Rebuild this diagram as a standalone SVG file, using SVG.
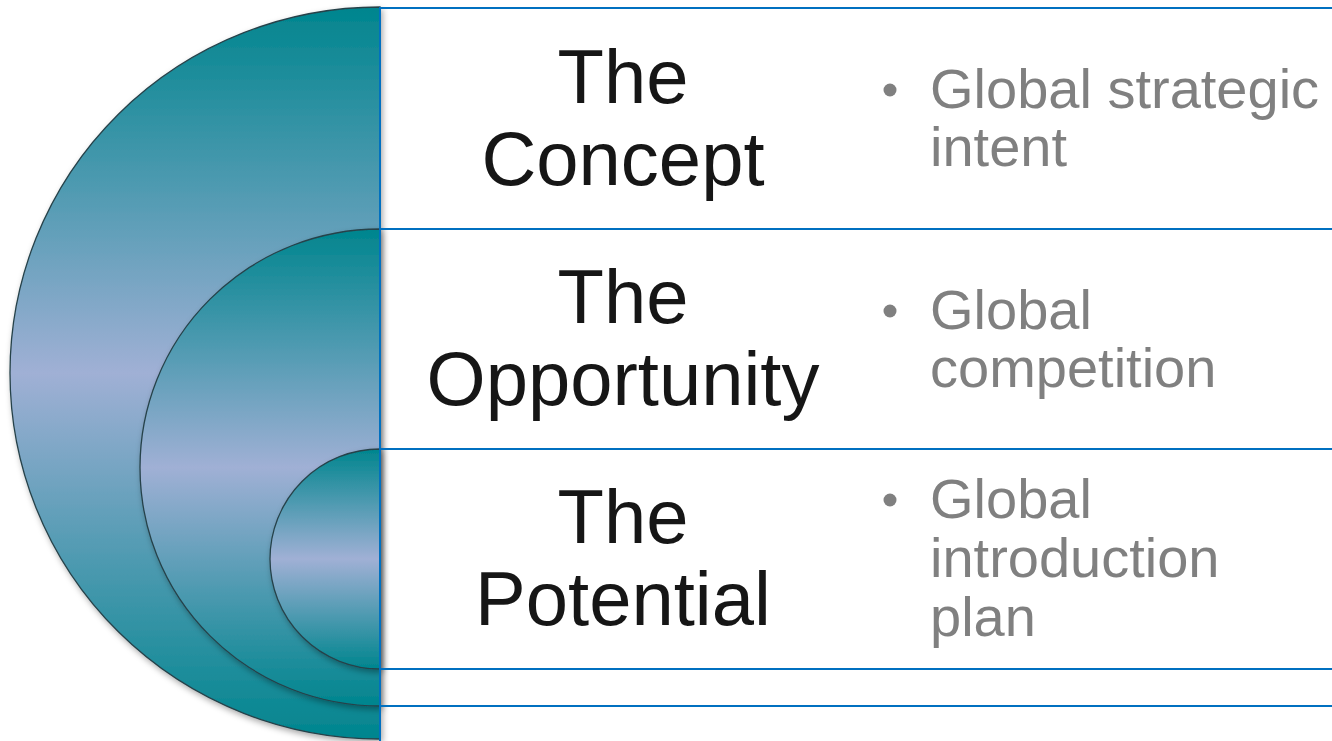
<svg xmlns="http://www.w3.org/2000/svg" width="1332" height="741" viewBox="0 0 1332 741">
  <defs>
    <linearGradient id="g" x1="0" y1="0" x2="0" y2="1">
      <stop offset="0" stop-color="#00858E"/>
      <stop offset="0.5" stop-color="#A0B0D5"/>
      <stop offset="1" stop-color="#00858E"/>
    </linearGradient>
    <filter id="sh" x="-10%" y="-10%" width="130%" height="130%">
      <feDropShadow dx="2" dy="3" stdDeviation="3" flood-color="#000" flood-opacity="0.35"/>
    </filter>
    <style>
      .arc { fill: url(#g); stroke: #26424A; stroke-width: 1.3; filter: url(#sh); }
      .ln { stroke: #0070C0; stroke-width: 2; fill: none; }
      .title { font-family: "Liberation Sans", Arial, sans-serif; font-size: 76px; fill: #161616; text-anchor: middle; }
      .bul { font-family: "Liberation Sans", Arial, sans-serif; font-size: 56px; fill: #808080; }
      .dot { fill: #808080; }
    </style>
  </defs>
  <rect width="1332" height="741" fill="#fff"/>
  <g id="circle-concept">
    <path class="arc" d="M380,7 A370 366 0 0 0 380,739 Z"/>
  </g>
  <g id="circle-opportunity">
    <path class="arc" d="M380,229 A240 238.5 0 0 0 380,706 Z"/>
  </g>
  <g id="circle-potential">
    <path class="arc" d="M380,449 A110 110 0 0 0 380,669 Z"/>
  </g>
  <g id="connectors">
    <line class="ln" x1="380" y1="7" x2="380" y2="741"/>
    <line class="ln" x1="379" y1="8" x2="1332" y2="8"/>
    <line class="ln" x1="380" y1="229" x2="1332" y2="229"/>
    <line class="ln" x1="380" y1="449" x2="1332" y2="449"/>
    <line class="ln" x1="380" y1="669" x2="1332" y2="669"/>
    <line class="ln" x1="380" y1="706" x2="1332" y2="706"/>
  </g>
  <g id="row-concept">
    <text class="title" x="623" y="103">The</text>
    <text class="title" x="623" y="185">Concept</text>
    <circle class="dot" cx="890" cy="90" r="6.5"/>
    <text class="bul" x="930" y="108">Global strategic</text>
    <text class="bul" x="930" y="166">intent</text>
  </g>
  <g id="row-opportunity">
    <text class="title" x="623" y="323">The</text>
    <text class="title" x="623" y="405">Opportunity</text>
    <circle class="dot" cx="890" cy="311" r="6.5"/>
    <text class="bul" x="930" y="329">Global</text>
    <text class="bul" x="930" y="387">competition</text>
  </g>
  <g id="row-potential">
    <text class="title" x="623" y="543">The</text>
    <text class="title" x="623" y="625">Potential</text>
    <circle class="dot" cx="890" cy="500" r="6.5"/>
    <text class="bul" x="930" y="518">Global</text>
    <text class="bul" x="930" y="577">introduction</text>
    <text class="bul" x="930" y="636">plan</text>
  </g>
</svg>
